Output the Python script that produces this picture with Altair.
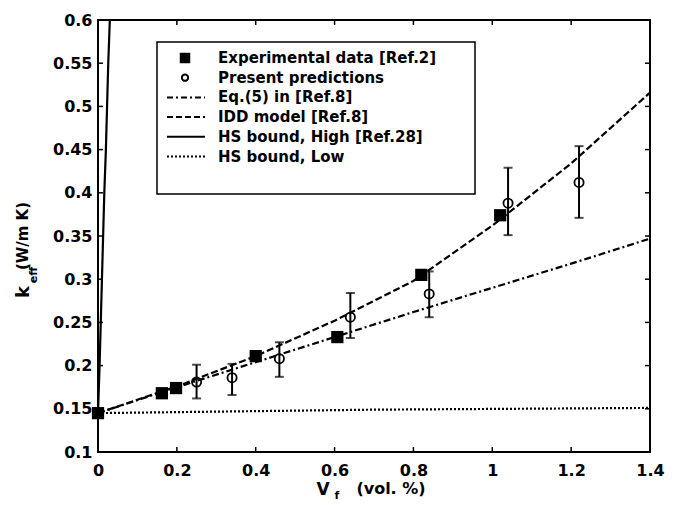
import altair as alt
import pandas as pd

# ---------------- data ----------------
exp_x = [0.0, 0.162, 0.198, 0.400, 0.607, 0.820, 1.020]
exp_y = [0.145, 0.168, 0.174, 0.211, 0.233, 0.305, 0.374]

pred_x = [0.25, 0.34, 0.46, 0.64, 0.84, 1.04, 1.22]
pred_y = [0.181, 0.186, 0.208, 0.256, 0.283, 0.388, 0.412]
pred_lo = [0.162, 0.166, 0.187, 0.232, 0.256, 0.351, 0.371]
pred_hi = [0.201, 0.202, 0.227, 0.284, 0.309, 0.429, 0.454]

model_x = [0.0, 0.2, 0.4, 0.6, 0.8, 1.0, 1.2, 1.4]
eq5_y = [0.145, 0.175, 0.204, 0.233, 0.262, 0.290, 0.318, 0.347]
idd_y = [0.145, 0.176, 0.211, 0.252, 0.298, 0.362, 0.434, 0.516]

hs_high_x = [0.0, 0.004, 0.007, 0.010, 0.013, 0.016, 0.020, 0.023, 0.026, 0.030]
hs_high_y = [0.145, 0.20, 0.25, 0.30, 0.35, 0.40, 0.45, 0.50, 0.55, 0.60]

hs_low_x = [0.0, 0.7, 1.4]
hs_low_y = [0.145, 0.149, 0.151]

x_ticks = [0.0, 0.2, 0.4, 0.6, 0.8, 1.0, 1.2, 1.4]
y_ticks = [0.1, 0.15, 0.2, 0.25, 0.3, 0.35, 0.4, 0.45, 0.5, 0.55, 0.6]

legend_labels = [
    "Experimental data [Ref.2]",
    "Present predictions",
    "Eq.(5) in [Ref.8]",
    "IDD model [Ref.8]",
    "HS bound, High [Ref.28]",
    "HS bound, Low",
]

# ---------------- layout constants ----------------
W, H = 552, 432
FONT = "DejaVu Sans"

xs = alt.Scale(domain=[0, 1.4], nice=False, zero=False)
ys = alt.Scale(domain=[0.1, 0.6], nice=False, zero=False)

x_axis = alt.Axis(values=x_ticks, format=".1~f", title=None, ticks=False, tickSize=0,
                  domain=False, grid=False, labelFont=FONT, labelFontWeight="bold",
                  labelFontSize=16, labelColor="black", labelPadding=10,
                  labelFlush=False, labelOverlap=False)
y_axis = alt.Axis(values=y_ticks, format=".2~f", title=None, ticks=False, tickSize=0,
                  domain=False, grid=False, labelFont=FONT, labelFontWeight="bold",
                  labelFontSize=16, labelColor="black", labelPadding=6,
                  labelFlush=False, labelOverlap=False)


def X(f):
    return alt.X(f, type="quantitative", scale=xs, axis=x_axis)


def Y(f):
    return alt.Y(f, type="quantitative", scale=ys, axis=y_axis)


exp_df = pd.DataFrame({"x": exp_x, "y": exp_y})
pred_df = pd.DataFrame({"x": pred_x, "y": pred_y, "lo": pred_lo, "hi": pred_hi})
eq5_df = pd.DataFrame({"x": model_x, "y": eq5_y})
idd_df = pd.DataFrame({"x": model_x, "y": idd_y})
hsh_df = pd.DataFrame({"x": hs_high_x, "y": hs_high_y})
hsl_df = pd.DataFrame({"x": hs_low_x, "y": hs_low_y})
xt_df = pd.DataFrame({"x": x_ticks})
yt_df = pd.DataFrame({"y": y_ticks})
one = pd.DataFrame({"a": [0]})

LW = 2.2
layers = []

# model curves
layers.append(alt.Chart(hsl_df).mark_line(color="black", strokeWidth=LW, strokeDash=[2, 2])
              .encode(x=X("x"), y=Y("y")))
layers.append(alt.Chart(hsh_df).mark_line(color="black", strokeWidth=LW)
              .encode(x=X("x"), y=Y("y")))
layers.append(alt.Chart(eq5_df).mark_line(color="black", strokeWidth=LW, strokeDash=[7, 3, 2, 3])
              .encode(x=X("x"), y=Y("y")))
layers.append(alt.Chart(idd_df).mark_line(color="black", strokeWidth=LW, strokeDash=[7, 3])
              .encode(x=X("x"), y=Y("y")))

# error bars
layers.append(alt.Chart(pred_df).mark_rule(color="black", strokeWidth=2)
              .encode(x=X("x"), y=Y("lo"), y2="hi"))
layers.append(alt.Chart(pred_df).mark_tick(color="black", orient="horizontal", size=9, thickness=2)
              .encode(x=X("x"), y=Y("lo")))
layers.append(alt.Chart(pred_df).mark_tick(color="black", orient="horizontal", size=9, thickness=2)
              .encode(x=X("x"), y=Y("hi")))
# predictions (open circles)
layers.append(alt.Chart(pred_df).mark_point(shape="circle", filled=False, color="black",
                                            size=85, strokeWidth=1.8, opacity=1)
              .encode(x=X("x"), y=Y("y")))
# experimental (filled squares)
layers.append(alt.Chart(exp_df).mark_point(shape="square", filled=True, color="black",
                                           size=150, opacity=1)
              .encode(x=X("x"), y=Y("y")))

# inward ticks on all four sides
TL = 5
tick_style = dict(color="black", strokeWidth=1.5)
layers.append(alt.Chart(xt_df).mark_rule(**tick_style)
              .encode(x=X("x"), y=alt.value(H), y2=alt.value(H - TL)))
layers.append(alt.Chart(xt_df).mark_rule(**tick_style)
              .encode(x=X("x"), y=alt.value(0), y2=alt.value(TL)))
layers.append(alt.Chart(yt_df).mark_rule(**tick_style)
              .encode(y=Y("y"), x=alt.value(0), x2=alt.value(TL)))
layers.append(alt.Chart(yt_df).mark_rule(**tick_style)
              .encode(y=Y("y"), x=alt.value(W - TL), x2=alt.value(W)))

# ---------------- legend ----------------
LX0, LX1, LY0, LY1 = 59, 377, 22, 174
layers.append(alt.Chart(one).mark_rect(fill="white", stroke="black", strokeWidth=1.5)
              .encode(x=alt.value(LX0), x2=alt.value(LX1), y=alt.value(LY0), y2=alt.value(LY1)))
row_y = [38 + 19.7 * i for i in range(len(legend_labels))]
sym_x = 87
ln_x0, ln_x1 = 69, 107
txt_x = 120
layers.append(alt.Chart(one).mark_point(shape="square", filled=True, color="black", size=110, opacity=1)
              .encode(x=alt.value(sym_x), y=alt.value(row_y[0])))
layers.append(alt.Chart(one).mark_point(shape="circle", filled=False, color="black", size=40,
                                        strokeWidth=2, opacity=1)
              .encode(x=alt.value(sym_x), y=alt.value(row_y[1])))
dashes = [[6, 3, 2, 3], [6, 3], None, [2, 2]]
for i, d in enumerate(dashes):
    kw = dict(color="black", strokeWidth=2)
    if d is not None:
        kw["strokeDash"] = d
    layers.append(alt.Chart(one).mark_rule(**kw)
                  .encode(x=alt.value(ln_x0), x2=alt.value(ln_x1), y=alt.value(row_y[i + 2])))
for i, lab in enumerate(legend_labels):
    layers.append(alt.Chart(one).mark_text(text=lab, font=FONT, fontWeight="bold", fontSize=15,
                                           align="left", baseline="middle", color="black")
                  .encode(x=alt.value(txt_x), y=alt.value(row_y[i])))

# ---------------- axis titles ----------------
tstyle = dict(font=FONT, fontWeight="bold", color="black")
layers.append(alt.Chart(one).mark_text(text="(W/m K)", fontSize=15, angle=270, align="center",
                                       baseline="middle", **tstyle)
              .encode(x=alt.value(-75), y=alt.value(216)))
layers.append(alt.Chart(one).mark_text(text="k", fontSize=18, angle=270, align="center",
                                       baseline="middle", **tstyle)
              .encode(x=alt.value(-74), y=alt.value(272)))
layers.append(alt.Chart(one).mark_text(text="eff", fontSize=11, angle=270, align="center",
                                       baseline="middle", **tstyle)
              .encode(x=alt.value(-64), y=alt.value(255)))
layers.append(alt.Chart(one).mark_text(text="V", fontSize=17, align="center",
                                       baseline="middle", **tstyle)
              .encode(x=alt.value(225), y=alt.value(H + 38)))
layers.append(alt.Chart(one).mark_text(text="f", fontSize=11, align="center",
                                       baseline="middle", **tstyle)
              .encode(x=alt.value(239), y=alt.value(H + 44)))
layers.append(alt.Chart(one).mark_text(text="(vol. %)", fontSize=16, align="center",
                                       baseline="middle", **tstyle)
              .encode(x=alt.value(293), y=alt.value(H + 37)))

chart = alt.layer(*layers).properties(
    width=W, height=H,
    padding={"left": 90, "top": 12, "right": 19, "bottom": 49},
    autosize=alt.AutoSizeParams(type="none"),
    background="white",
).configure_view(stroke="black", strokeWidth=2)

chart.save("out.html", embed_options={"renderer": "svg", "actions": False})
